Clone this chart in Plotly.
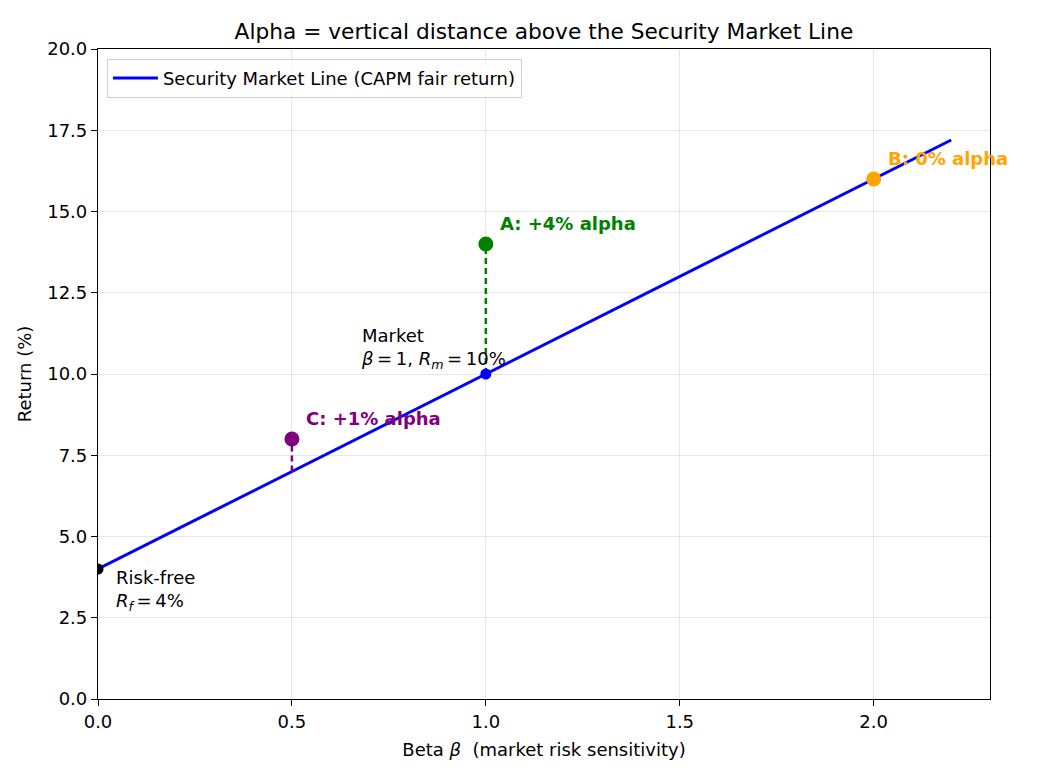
import plotly.graph_objects as go

# Security Market Line endpoints
sml_beta = [0.0, 2.2]
sml_return = [4.0, 17.2]

# Reference points on the SML
rf_beta, rf_return = [0.0], [4.0]
mkt_beta, mkt_return = [1.0], [10.0]

# Stocks
stock_names = ["A", "B", "C"]
stock_beta = [1.0, 2.0, 0.5]
stock_return = [14.0, 16.0, 8.0]
stock_fair = [10.0, 16.0, 7.0]
stock_alpha_labels = ["A: +4% alpha", "B: 0% alpha", "C: +1% alpha"]
stock_colors = ["#008000", "#FFA500", "#800080"]

x_ticks = [0.0, 0.5, 1.0, 1.5, 2.0]
y_ticks = [0.0, 2.5, 5.0, 7.5, 10.0, 12.5, 15.0, 17.5, 20.0]

FONT = "DejaVu Sans"
FS = 18
EQ = "\u2009=\u2009"
fig = go.Figure()

fig.add_trace(go.Scatter(x=sml_beta, y=sml_return, mode="lines",
                         line=dict(color="#0000FF", width=3),
                         name="Security Market Line (CAPM fair return)"))

# dashed alpha lines
for b, r, f, c in zip(stock_beta, stock_return, stock_fair, stock_colors):
    if r != f:
        fig.add_trace(go.Scatter(x=[b, b], y=[f, r], mode="lines",
                                 line=dict(color=c, width=2.5, dash="6px,4px"),
                                 showlegend=False, hoverinfo="skip"))

fig.add_trace(go.Scatter(x=rf_beta, y=rf_return, mode="markers",
                         marker=dict(color="black", size=11), showlegend=False))
fig.add_trace(go.Scatter(x=mkt_beta, y=mkt_return, mode="markers",
                         marker=dict(color="#0000FF", size=11), showlegend=False))

for b, r, c in zip(stock_beta, stock_return, stock_colors):
    fig.add_trace(go.Scatter(x=[b], y=[r], mode="markers",
                             marker=dict(color=c, size=15), showlegend=False,
                             cliponaxis=False))

for b, r, lab, c in zip(stock_beta, stock_return, stock_alpha_labels, stock_colors):
    fig.add_annotation(x=b, y=r, text=f"<b>{lab}</b>", showarrow=False,
                       xanchor="left", yanchor="middle", xshift=12, yshift=21,
                       font=dict(family=FONT, size=FS, color=c))

fig.add_annotation(x=0.672, y=10.0,
                   text=f"Market<br><i>β</i>{EQ}1, <i>R<sub>m</sub></i>{EQ}10%",
                   showarrow=False, xanchor="left", yanchor="bottom", align="left",
                   font=dict(family=FONT, size=FS, color="black"))
fig.add_annotation(x=0.041, y=4.13, text=f"Risk-free<br><i>R<sub>f</sub></i>{EQ}4%",
                   showarrow=False, xanchor="left", yanchor="top", align="left",
                   font=dict(family=FONT, size=FS, color="black"))

axis_common = dict(showline=True, linecolor="black", linewidth=1.2, mirror=True,
                   ticks="outside", ticklen=6, tickwidth=1.2, tickcolor="black",
                   showgrid=True, gridcolor="rgba(176,176,176,0.3)", gridwidth=1,
                   zeroline=False, tickfont=dict(family=FONT, size=FS, color="black"))

fig.update_xaxes(range=[0, 2.3], tickvals=x_ticks, ticktext=[f"{v:.1f}" for v in x_ticks],
                 title=dict(text="Beta <i>β</i>  (market risk sensitivity)",
                            font=dict(family=FONT, size=FS, color="black"), standoff=12),
                 **axis_common)
fig.update_yaxes(range=[0, 20], tickvals=y_ticks, ticktext=[f"{v:.1f}" for v in y_ticks],
                 title=dict(text="Return (%)", font=dict(family=FONT, size=FS, color="black"),
                            standoff=10),
                 **axis_common)

fig.update_layout(
    width=1040, height=780,
    margin=dict(l=98, r=50, t=49, b=81),
    paper_bgcolor="white", plot_bgcolor="white",
    title=dict(text="Alpha = vertical distance above the Security Market Line",
               x=0.523, xanchor="center", y=1 - 31 / 780, yanchor="middle",
               font=dict(family=FONT, size=21.7, color="black")),
    legend=dict(x=0.01, y=0.985, xanchor="left", yanchor="top", itemwidth=45,
                bordercolor="#d0d0d0", borderwidth=1, bgcolor="rgba(255,255,255,0.8)",
                font=dict(family=FONT, size=FS, color="black")),
    showlegend=True,
)

fig.write_html("out.html")
